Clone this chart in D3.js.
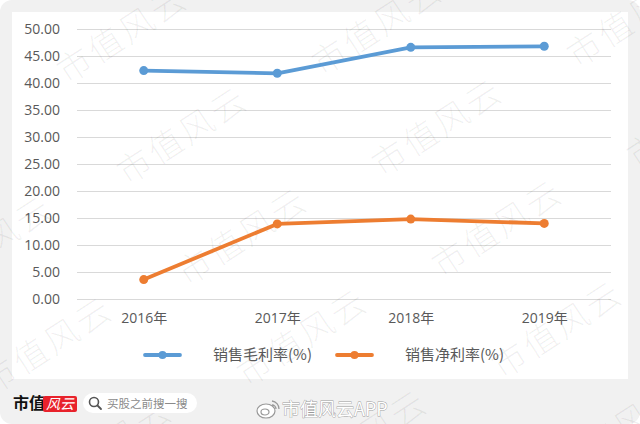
<!doctype html>
<html>

<head>
    <meta charset="UTF-8">
    <title>销售毛利率 / 销售净利率</title>
    <script src="https://d3js.org/d3.v7.min.js"></script>
    <style>
        body { margin: 0; background: #fff; }
        svg { display: block; }
    </style>
</head>

<body>
    <script>
        // data
        var years = ["2016年", "2017年", "2018年", "2019年"];
        var grossMargin = [42.3, 41.8, 46.6, 46.8];   // 销售毛利率(%)
        var netMargin = [3.6, 13.9, 14.8, 14.0];      // 销售净利率(%)
        var yTicks = [0, 5, 10, 15, 20, 25, 30, 35, 40, 45, 50];
        var seriesNames = ["销售毛利率(%)", "销售净利率(%)"];
        var seriesColors = ["#5b9bd5", "#ed7d31"];

        var w = 640;
        var h = 424;
        var plotL = 77, plotR = 611, plotT = 29, plotB = 299;

        var svg = d3.select("body").append("svg")
            .attr("width", w)
            .attr("height", h);

        // outer grey card and white chart panel
        svg.append("rect")
            .attr("x", 0).attr("y", 0)
            .attr("width", w).attr("height", h)
            .attr("rx", 12)
            .attr("fill", "#f1f1f1");
        svg.append("rect")
            .attr("x", 12).attr("y", 12)
            .attr("width", 616).attr("height", 367)
            .attr("fill", "#fff");

        var x = d3.scalePoint()
            .domain(years)
            .range([plotL, plotR])
            .padding(0.5);

        var y = d3.scaleLinear()
            .domain([0, 50])
            .range([plotB, plotT]);

        // grid lines + y labels
        var yAxis = d3.axisLeft(y)
            .tickValues(yTicks)
            .tickSize(-(plotR - plotL))
            .tickPadding(17)
            .tickFormat(d3.format(".2f"));

        var gy = svg.append("g")
            .attr("transform", "translate(" + plotL + ",0)")
            .call(yAxis);
        gy.select(".domain").remove();
        gy.selectAll(".tick line").attr("stroke", "#d9d9d9").attr("stroke-width", 1);
        gy.selectAll(".tick text")
            .attr("fill", "#595959")
            .style("font-family", "'Open Sans', sans-serif")
            .style("font-size", "14px");

        // x labels
        var xAxis = d3.axisBottom(x).tickSize(0).tickPadding(14);
        var gx = svg.append("g")
            .attr("transform", "translate(0," + plotB + ")")
            .call(xAxis);
        gx.select(".domain").remove();
        gx.selectAll(".tick text")
            .attr("fill", "#595959")
            .style("font-family", "'Open Sans', 'Noto Sans CJK SC', sans-serif")
            .style("font-size", "14px");

        // watermark 市值风云, repeated on a slanted grid
        var marks = [];
        for (var j = -1; j < 5; j++) {
            for (var i = -1; i < 4; i++) {
                marks.push([67 + i * 255 + j * 60, 85 - i * 8 + j * 101]);
            }
        }
        svg.append("g").selectAll("text")
            .data(marks)
            .enter().append("text")
            .attr("transform", function (d) {
                return "translate(" + d[0] + "," + d[1] + ") rotate(-33)";
            })
            .attr("fill", "#000")
            .attr("fill-opacity", 0.06)
            .style("font-family", "'Noto Sans CJK SC', sans-serif")
            .style("font-weight", 300)
            .style("font-size", "34px")
            .style("letter-spacing", "3px")
            .text("市值风云");

        // lines
        var line = d3.line()
            .x(function (d, i) { return x(years[i]); })
            .y(function (d) { return y(d); });

        [grossMargin, netMargin].forEach(function (values, k) {
            svg.append("path")
                .datum(values)
                .attr("d", line)
                .attr("fill", "none")
                .attr("stroke", seriesColors[k])
                .attr("stroke-width", 3.8)
                .attr("stroke-linejoin", "round");
            svg.append("g").selectAll("circle")
                .data(values)
                .enter().append("circle")
                .attr("cx", function (d, i) { return x(years[i]); })
                .attr("cy", function (d) { return y(d); })
                .attr("r", 4.5)
                .attr("fill", seriesColors[k]);
        });

        // legend
        var legendX = [145, 337];
        var legend = svg.append("g").selectAll("g")
            .data(seriesNames)
            .enter().append("g")
            .attr("transform", function (d, i) { return "translate(" + legendX[i] + ",355)"; });
        legend.append("line")
            .attr("x1", 0).attr("x2", 35)
            .attr("stroke", function (d, i) { return seriesColors[i]; })
            .attr("stroke-width", 3.8)
            .attr("stroke-linecap", "round");
        legend.append("circle")
            .attr("cx", 17.5).attr("r", 4)
            .attr("fill", function (d, i) { return seriesColors[i]; });
        legend.append("text")
            .attr("x", 68)
            .attr("dy", "0.35em")
            .attr("fill", "#595959")
            .style("font-family", "'Noto Sans CJK SC', sans-serif")
            .style("font-size", "15px")
            .text(function (d) { return d; });

        // footer
        var foot = svg.append("g");
        foot.append("text")
            .attr("x", 13).attr("y", 409)
            .attr("fill", "#111")
            .style("font-family", "'Noto Sans CJK SC', serif")
            .style("font-weight", "bold")
            .style("font-size", "16px")
            .text("市值");
        foot.append("rect")
            .attr("x", 43).attr("y", 396)
            .attr("width", 34).attr("height", 16)
            .attr("rx", 2)
            .attr("fill", "#e8222b");
        foot.append("text")
            .attr("x", 60).attr("y", 409)
            .attr("text-anchor", "middle")
            .attr("fill", "#fff")
            .style("font-family", "'Noto Sans CJK SC', sans-serif")
            .style("font-style", "italic")
            .style("font-size", "14px")
            .text("风云");
        foot.append("rect")
            .attr("x", 83).attr("y", 393)
            .attr("width", 114).attr("height", 20)
            .attr("rx", 10)
            .attr("fill", "#fff");
        foot.append("circle")
            .attr("cx", 94).attr("cy", 402).attr("r", 4.5)
            .attr("fill", "none").attr("stroke", "#555").attr("stroke-width", 1.6);
        foot.append("line")
            .attr("x1", 97.5).attr("y1", 405.5).attr("x2", 101).attr("y2", 409)
            .attr("stroke", "#555").attr("stroke-width", 1.8).attr("stroke-linecap", "round");
        foot.append("text")
            .attr("x", 107).attr("y", 407.5)
            .attr("fill", "#8a8a8a")
            .style("font-family", "'Noto Sans CJK SC', sans-serif")
            .style("font-size", "11.5px")
            .text("买股之前搜一搜");

        // weibo mark + account name
        var wb = foot.append("g").attr("transform", "translate(266,411)");
        wb.append("ellipse").attr("rx", 9).attr("ry", 7)
            .attr("fill", "#fff").attr("stroke", "#999").attr("stroke-width", 1.2);
        wb.append("ellipse").attr("cx", -1).attr("cy", 1).attr("rx", 4).attr("ry", 3)
            .attr("fill", "none").attr("stroke", "#999").attr("stroke-width", 1.2);
        wb.append("path").attr("d", "M6,-10 A8,8 0 0 1 13,-2")
            .attr("fill", "none").attr("stroke", "#999").attr("stroke-width", 1.3);
        wb.append("path").attr("d", "M6,-6 A4,4 0 0 1 10,-2")
            .attr("fill", "none").attr("stroke", "#999").attr("stroke-width", 1.3);
        foot.append("text")
            .attr("x", 282).attr("y", 416)
            .attr("fill", "#fff")
            .attr("stroke", "#9a9a9a")
            .attr("stroke-width", 0.8)
            .attr("paint-order", "stroke")
            .style("font-family", "'Noto Sans CJK SC', sans-serif")
            .style("font-size", "18px")
            .text("市值风云APP");
    </script>

</body>

</html>
